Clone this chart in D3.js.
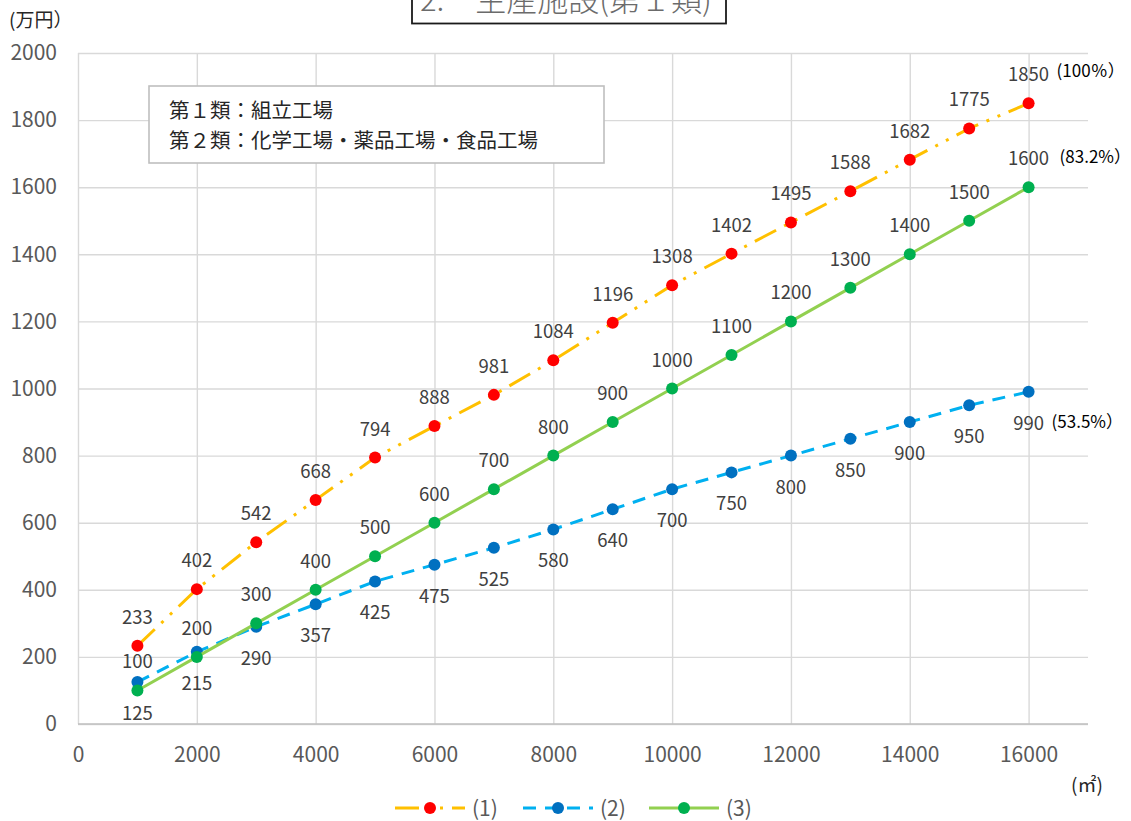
<!DOCTYPE html>
<html lang="ja">
<head>
<meta charset="utf-8">
<script src="https://cdn.jsdelivr.net/npm/d3@7/dist/d3.min.js"></script>
<style>
  html, body { margin: 0; padding: 0; background: #fff; }
  svg { display: block; font-family: "Noto Sans CJK JP", "Noto Sans", sans-serif; }
</style>
</head>
<body>
<svg id="chart" width="1131" height="821"></svg>
<script>
// 延床面積 (㎡)
const areas = [1000, 2000, 3000, 4000, 5000, 6000, 7000, 8000, 9000, 10000, 11000, 12000, 13000, 14000, 15000, 16000];
// (1) 第1類
const series1 = [233, 402, 542, 668, 794, 888, 981, 1084, 1196, 1308, 1402, 1495, 1588, 1682, 1775, 1850];
// (2) 第2類
const series2 = [125, 215, 290, 357, 425, 475, 525, 580, 640, 700, 750, 800, 850, 900, 950, 990];
// (3)
const series3 = [100, 200, 300, 400, 500, 600, 700, 800, 900, 1000, 1100, 1200, 1300, 1400, 1500, 1600];

const seriesNames = ["(1)", "(2)", "(3)"];
const percentLabels = ["(100％）", "(53.5%）", "(83.2%）"];
const xTicks = [0, 2000, 4000, 6000, 8000, 10000, 12000, 14000, 16000];
const yTicks = [0, 200, 400, 600, 800, 1000, 1200, 1400, 1600, 1800, 2000];
const titleText = "2.　生産施設(第１類)";
const noteLines = ["第１類：組立工場", "第２類：化学工場・薬品工場・食品工場"];

const svg = d3.select("#chart");
const plot = { left: 78, right: 1088, top: 53, bottom: 724 };

const x = d3.scaleLinear().domain([0, 17000]).range([plot.left, plot.right]);
const y = d3.scaleLinear().domain([0, 2000]).range([plot.bottom, plot.top]);

// gridlines + tick labels
const yAxis = svg.append("g")
  .attr("transform", `translate(${plot.left},0)`)
  .call(d3.axisLeft(y).tickValues(yTicks).tickSize(-(plot.right - plot.left)).tickPadding(21).tickFormat(d3.format("d")));
const xAxis = svg.append("g")
  .attr("transform", `translate(0,${plot.bottom})`)
  .call(d3.axisBottom(x).tickValues(xTicks).tickSize(-(plot.bottom - plot.top)).tickPadding(23).tickFormat(d3.format("d")));
[yAxis, xAxis].forEach(g => {
  g.select(".domain").remove();
  g.selectAll(".tick line").attr("stroke", "#d9d9d9").attr("stroke-width", 1.4);
  g.selectAll(".tick text").attr("fill", "#595959").attr("font-size", 21)
    .attr("font-family", "\"Noto Sans CJK JP\", sans-serif");
});
// category axis line
svg.append("line")
  .attr("x1", plot.left).attr("x2", plot.right)
  .attr("y1", y(0)).attr("y2", y(0))
  .attr("stroke", "#bfbfbf").attr("stroke-width", 1.6);

// unit labels
svg.append("text").attr("x", 9).attr("y", 27).attr("font-size", 19).attr("fill", "#262626").text("(万円）");
svg.append("text").attr("x", 1071).attr("y", 792).attr("font-size", 19).attr("fill", "#262626").text("(㎡)");

// title
svg.append("rect").attr("x", 412).attr("y", -20).attr("width", 314).attr("height", 43.5)
  .attr("fill", "#fff").attr("stroke", "#1a1a1a").attr("stroke-width", 1.8);
svg.append("text").attr("x", 420).attr("y", 11).attr("font-size", 31).attr("font-weight", 300)
  .attr("fill", "#6b6b6b").text(titleText);

// note box
svg.append("rect").attr("x", 149).attr("y", 86).attr("width", 455).attr("height", 77)
  .attr("fill", "#fff").attr("stroke", "#bfbfbf").attr("stroke-width", 1.6);
svg.append("g").selectAll("text").data(noteLines).join("text")
  .attr("x", 169).attr("y", (d, i) => 118 + i * 30)
  .attr("font-size", 20.5).attr("fill", "#262626").text(d => d);

const styles = [
  { values: series1, line: "#ffc000", marker: "#ff0000", dash: "24,9,3,9,3,9", labelDy: -22, pct: { dx: 28, dy: -26 } },
  { values: series2, line: "#00b0f0", marker: "#0070c0", dash: "13,9", labelDy: 38, pct: { dx: 23, dy: 36 } },
  { values: series3, line: "#92d050", marker: "#00b050", dash: null, labelDy: -22, pct: { dx: 31, dy: -24 } }
];

const lineGen = d3.line().x(d => x(d[0])).y(d => y(d[1]));

styles.forEach((s, si) => {
  const pts = areas.map((a, i) => [a, s.values[i]]);
  const g = svg.append("g");
  g.append("path").datum(pts)
    .attr("d", lineGen).attr("fill", "none")
    .attr("stroke", s.line).attr("stroke-width", 3)
    .attr("stroke-dasharray", s.dash);
  g.selectAll("circle").data(pts).join("circle")
    .attr("cx", d => x(d[0])).attr("cy", d => y(d[1])).attr("r", 6)
    .attr("fill", s.marker);
  g.selectAll("text.val").data(pts).join("text").attr("class", "val")
    .attr("x", d => x(d[0])).attr("y", d => y(d[1]) + s.labelDy)
    .attr("text-anchor", "middle").attr("font-size", 18.5).attr("fill", "#404040")
    .text(d => d[1]);
  const last = pts[pts.length - 1];
  g.append("text")
    .attr("x", x(last[0]) + s.pct.dx).attr("y", y(last[1]) + s.pct.dy)
    .attr("font-size", 17).attr("fill", "#000").text(percentLabels[si]);
});

// legend
const legendX = [395, 523, 649];
const legend = svg.append("g");
styles.forEach((s, i) => {
  const lx = legendX[i];
  const ly = 808;
  const item = legend.append("g");
  item.append("line").attr("x1", lx).attr("x2", lx + 70).attr("y1", ly).attr("y2", ly)
    .attr("stroke", s.line).attr("stroke-width", 3).attr("stroke-dasharray", s.dash);
  item.append("circle").attr("cx", lx + 35).attr("cy", ly).attr("r", 6).attr("fill", s.marker);
  item.append("text").attr("x", lx + 77).attr("y", ly + 7.5)
    .attr("font-size", 21).attr("fill", "#595959").text(seriesNames[i]);
});
</script>
</body>
</html>
